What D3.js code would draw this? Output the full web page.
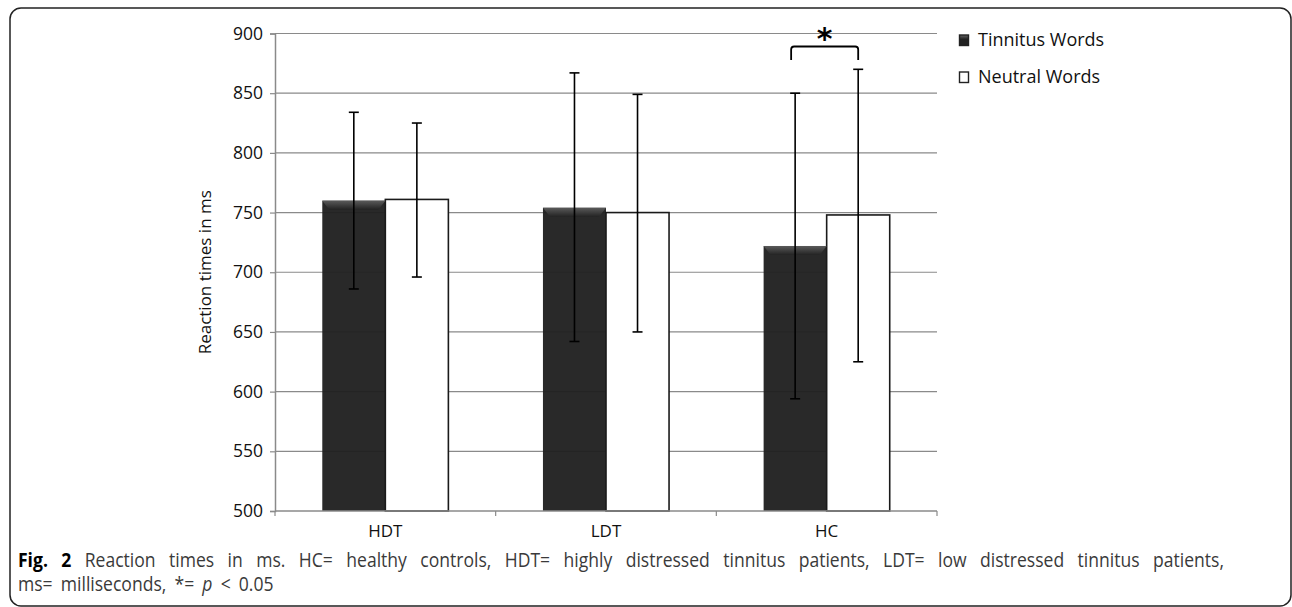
<!DOCTYPE html>
<html>
<head>
<meta charset="utf-8">
<script src="https://cdn.jsdelivr.net/npm/d3@7"></script>
<style>
  body { margin: 0; background: #fff; }
  svg { display: block; }
</style>
</head>
<body>
<div id="wrapper"></div>
<script>
// data
const categories = ["HDT", "LDT", "HC"]
const seriesNames = ["Tinnitus Words", "Neutral Words"]
const tinnitusMeans = [760, 754, 722]
const neutralMeans = [761, 750, 748]
const tinnitusUpper = [834, 867, 850]
const tinnitusLower = [686, 642, 594]
const neutralUpper = [825, 849, 870]
const neutralLower = [696, 650, 625]
const yTicks = [500, 550, 600, 650, 700, 750, 800, 850, 900]
const captionBold = "Fig. 2"
const captionLine1 = "Reaction times in ms. HC= healthy controls, HDT= highly distressed tinnitus patients, LDT= low distressed tinnitus patients,"
const captionLine2a = "ms= milliseconds, *= "
const captionLine2b = "p"
const captionLine2c = " < 0.05"

const rows = []
categories.forEach((c, i) => {
    rows.push({ cat: c, key: "tinnitus", value: tinnitusMeans[i], hi: tinnitusUpper[i], lo: tinnitusLower[i] })
    rows.push({ cat: c, key: "neutral", value: neutralMeans[i], hi: neutralUpper[i], lo: neutralLower[i] })
})

const dimensions = {
    width: 1292,
    height: 607,
    left: 275,
    right: 937,
    top: 33.5,
    bottom: 511,
}

const svg = d3.select("#wrapper")
    .append("svg")
    .attr("width", dimensions.width)
    .attr("height", dimensions.height)

const defs = svg.append("defs")
const bevel = defs.append("linearGradient")
    .attr("id", "bevel")
    .attr("x1", 0).attr("y1", 0).attr("x2", 0).attr("y2", 1)
bevel.append("stop").attr("offset", "0%").attr("stop-color", "#5a5a5a")
bevel.append("stop").attr("offset", "100%").attr("stop-color", "#232323")

// frame
svg.append("rect")
    .attr("x", 10)
    .attr("y", 8)
    .attr("width", 1281)
    .attr("height", 598)
    .attr("rx", 11)
    .attr("fill", "none")
    .attr("stroke", "#222")
    .attr("stroke-width", 1.5)

// scales
const xScale = d3.scaleBand()
    .domain(categories)
    .range([dimensions.left, dimensions.right])
    .paddingInner(0)
    .paddingOuter(0)

const xInner = d3.scaleBand()
    .domain(["tinnitus", "neutral"])
    .range([0, xScale.bandwidth()])
    .paddingInner(0)
    .paddingOuter(0.75)

const yScale = d3.scaleLinear()
    .domain([500, 900])
    .range([dimensions.bottom, dimensions.top])

// gridlines
svg.append("g")
    .selectAll("line")
    .data(yTicks.slice(1))
    .join("line")
    .attr("x1", dimensions.left)
    .attr("x2", dimensions.right)
    .attr("y1", d => yScale(d))
    .attr("y2", d => yScale(d))
    .attr("stroke", "#8a8a8a")
    .attr("stroke-width", 1.2)

// bars
const bars = svg.append("g")
bars.selectAll("rect.bar")
    .data(rows)
    .join("rect")
    .attr("class", "bar")
    .attr("x", d => xScale(d.cat) + xInner(d.key))
    .attr("y", d => yScale(d.value))
    .attr("width", xInner.bandwidth())
    .attr("height", d => yScale(500) - yScale(d.value))
    .attr("fill", d => d.key == "tinnitus" ? "#202020" : "#fff")
    .attr("fill-opacity", d => d.key == "tinnitus" ? 0.96 : 1)
    .attr("stroke", d => d.key == "tinnitus" ? "none" : "#1a1a1a")
    .attr("stroke-width", 1.6)

// top bevel on the dark bars
bars.selectAll("path.bevel")
    .data(rows.filter(d => d.key == "tinnitus"))
    .join("path")
    .attr("class", "bevel")
    .attr("d", d => {
        const x0 = xScale(d.cat) + xInner(d.key)
        const x1 = x0 + xInner.bandwidth()
        const y0 = yScale(d.value)
        return `M${x0},${y0} L${x1},${y0} L${x1 - 7},${y0 + 9} L${x0 + 7},${y0 + 9} Z`
    })
    .attr("fill", "url(#bevel)")

// axes
const yAxis = d3.axisLeft(yScale).tickValues(yTicks).tickSize(5).tickFormat(d3.format("d"))
const yAxisG = svg.append("g")
    .attr("transform", `translate(${dimensions.left},0)`)
    .call(yAxis)
yAxisG.select(".domain").attr("stroke", "#8a8a8a").attr("stroke-width", 1.5)
yAxisG.selectAll(".tick line").attr("stroke", "#8a8a8a").attr("stroke-width", 1.2)
yAxisG.selectAll(".tick text")
    .attr("x", -12)
    .attr("fill", "#111")
    .style("font-family", "'Open Sans', sans-serif")
    .style("font-size", "17.5px")

const xAxisG = svg.append("g")
    .attr("transform", `translate(0,${dimensions.bottom})`)
xAxisG.append("line")
    .attr("x1", dimensions.left)
    .attr("x2", dimensions.right)
    .attr("stroke", "#8a8a8a")
    .attr("stroke-width", 1.5)
xAxisG.selectAll("line.tk")
    .data(categories.map(c => xScale(c)).concat([dimensions.right]))
    .join("line")
    .attr("class", "tk")
    .attr("x1", d => d).attr("x2", d => d)
    .attr("y1", 0).attr("y2", 5)
    .attr("stroke", "#8a8a8a")
    .attr("stroke-width", 1.2)
xAxisG.selectAll("text")
    .data(categories)
    .join("text")
    .attr("x", d => xScale(d) + xScale.bandwidth() / 2)
    .attr("y", 26)
    .attr("text-anchor", "middle")
    .attr("fill", "#111")
    .style("font-family", "'Open Sans', sans-serif")
    .style("font-size", "17px")
    .text(d => d)

// y label
svg.append("text")
    .attr("transform", `translate(211,${(dimensions.top + dimensions.bottom) / 2}) rotate(-90)`)
    .attr("text-anchor", "middle")
    .attr("fill", "#111")
    .style("font-family", "'Open Sans', sans-serif")
    .style("font-size", "17px")
    .text("Reaction times in ms")

// error bars
const capHalf = 5
const errG = svg.append("g").attr("stroke", "#000").attr("stroke-width", 1.6)
rows.forEach(d => {
    const cx = xScale(d.cat) + xInner(d.key) + xInner.bandwidth() / 2
    errG.append("line").attr("x1", cx).attr("x2", cx).attr("y1", yScale(d.hi)).attr("y2", yScale(d.lo))
    errG.append("line").attr("x1", cx - capHalf).attr("x2", cx + capHalf).attr("y1", yScale(d.hi)).attr("y2", yScale(d.hi))
    errG.append("line").attr("x1", cx - capHalf).attr("x2", cx + capHalf).attr("y1", yScale(d.lo)).attr("y2", yScale(d.lo))
})

// significance bracket for HC
const bx0 = xScale("HC") + xInner("tinnitus") + xInner.bandwidth() / 2 - 4
const bx1 = xScale("HC") + xInner("neutral") + xInner.bandwidth() / 2
const byTop = 46.5
const byBot = 60
svg.append("path")
    .attr("d", `M${bx0},${byBot} L${bx0},${byTop + 3} Q${bx0},${byTop} ${bx0 + 3},${byTop} L${bx1 - 3},${byTop} Q${bx1},${byTop} ${bx1},${byTop + 3} L${bx1},${byBot}`)
    .attr("fill", "none")
    .attr("stroke", "#000")
    .attr("stroke-width", 1.8)
svg.append("text")
    .attr("x", (bx0 + bx1) / 2)
    .attr("y", 49)
    .attr("text-anchor", "middle")
    .style("font-family", "'DejaVu Sans', sans-serif")
    .style("font-size", "30px")
    .style("font-weight", "bold")
    .text("*")

// legend
const legendBevel = defs.append("linearGradient")
    .attr("id", "legendBevel")
    .attr("x1", 0).attr("y1", 0).attr("x2", 0).attr("y2", 1)
legendBevel.append("stop").attr("offset", "0%").attr("stop-color", "#666")
legendBevel.append("stop").attr("offset", "40%").attr("stop-color", "#222")
legendBevel.append("stop").attr("offset", "100%").attr("stop-color", "#222")

const legend = svg.append("g").attr("transform", "translate(959,0)")
const legendY = [46, 83]
seriesNames.forEach((name, i) => {
    legend.append("rect")
        .attr("x", 0.5)
        .attr("y", legendY[i] - 11)
        .attr("width", 9)
        .attr("height", 10.5)
        .attr("fill", i == 0 ? "url(#legendBevel)" : "#fff")
        .attr("stroke", "#222")
        .attr("stroke-width", 1.4)
    legend.append("text")
        .attr("x", 19)
        .attr("y", legendY[i])
        .attr("fill", "#111")
        .style("font-family", "'Open Sans', sans-serif")
        .style("font-size", "18px")
        .text(name)
})

// caption: a condensed face, imitated by squeezing Open Sans horizontally
const squeeze = 0.9
const capLeft = 18
const capG = svg.append("g").attr("transform", `scale(${squeeze},1)`)
const cap1 = capG.append("text")
    .attr("x", capLeft / squeeze)
    .attr("y", 567)
    .attr("fill", "#3a3a3a")
    .style("font-family", "'Open Sans', sans-serif")
    .style("font-size", "19.5px")
cap1.append("tspan")
    .attr("fill", "#000")
    .style("font-weight", "bold")
    .text(captionBold + " ")
cap1.append("tspan").text(captionLine1)

// spread words so the first line is justified to the right margin
const targetRight = 1224
const len = cap1.node().getComputedTextLength()
const gaps = (captionBold + " " + captionLine1).split(" ").length - 1
cap1.style("word-spacing", `${Math.max(0, ((targetRight - capLeft) / squeeze - len) / gaps)}px`)

const cap2 = capG.append("text")
    .attr("x", capLeft / squeeze)
    .attr("y", 591)
    .attr("fill", "#3a3a3a")
    .style("font-family", "'Open Sans', sans-serif")
    .style("font-size", "19.5px")
    .style("word-spacing", "4px")
cap2.append("tspan").text(captionLine2a)
cap2.append("tspan").style("font-style", "italic").text(captionLine2b)
cap2.append("tspan").text(captionLine2c)
</script>
</body>
</html>
